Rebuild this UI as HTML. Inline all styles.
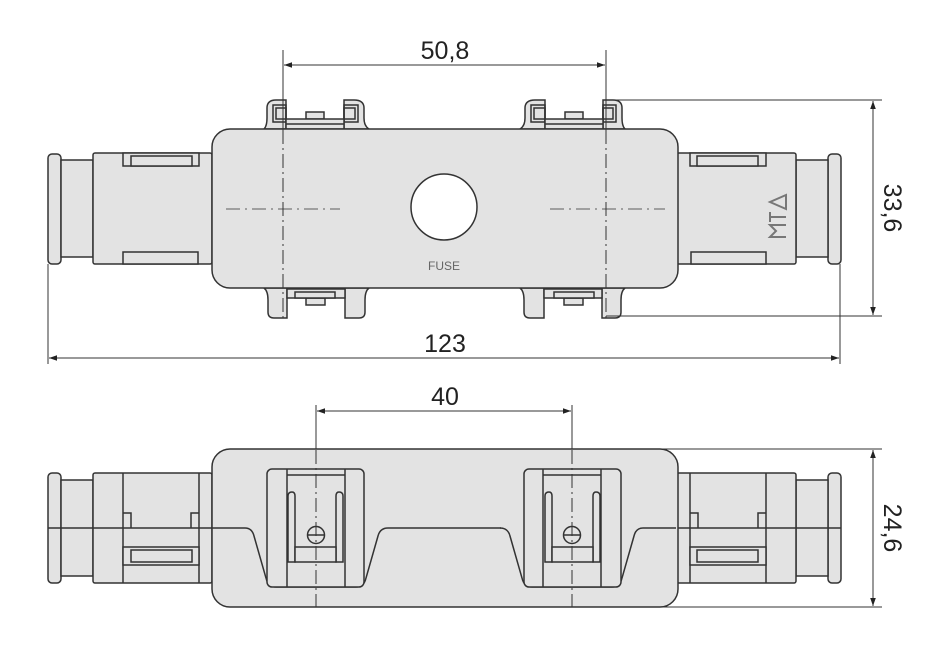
<!DOCTYPE html>
<html><head><meta charset="utf-8"><style>
html,body{margin:0;padding:0;background:#fff;}
svg{display:block;}
text{font-family:"Liberation Sans",sans-serif;fill:#222;}
</style></head><body>
<svg width="941" height="645" viewBox="0 0 941 645" xmlns="http://www.w3.org/2000/svg">
<defs>
<marker id="ar" viewBox="0 0 10 10" refX="10" refY="5" markerWidth="10" markerHeight="8" orient="auto-start-reverse" markerUnits="userSpaceOnUse">
<path d="M0,1.5 L10,5 L0,8.5 z" fill="#222"/></marker>
<g id="topHalf" fill="#e3e3e3" stroke="#333" stroke-width="1.5">
  <rect x="48" y="154" width="13" height="110" rx="4"/>
  <rect x="61" y="160" width="32" height="97"/>
  <rect x="93" y="153" width="119" height="111" rx="2"/>
  <rect x="123" y="153" width="76" height="13"/>
  <rect x="131" y="156" width="61" height="10"/>
  <rect x="123" y="252" width="75" height="12"/>
  <path d="M264,129 Q267,126 267,118 L267,108 Q267,100 276,100 L286,100 L286,129 Z"/>
  <path d="M369,129 Q364,126 364,118 L364,108 Q364,100 354,100 L344,100 L344,129 Z"/>
  <rect x="273" y="105" width="13" height="17" fill="none"/>
  <rect x="276" y="108" width="10" height="11" fill="none"/>
  <rect x="344" y="105" width="14" height="17" fill="none"/>
  <rect x="344" y="108" width="11" height="11" fill="none"/>
  <rect x="306" y="112" width="18" height="7"/>
  <rect x="286" y="119" width="58" height="10"/>
  <line x1="286" y1="124" x2="344" y2="124"/>
  <path d="M264,288 Q268,291 268,300 L268,312 Q268,318 274,318 L287,318 L287,288 Z"/>
  <path d="M369,288 Q365,291 365,300 L365,312 Q365,318 359,318 L345,318 L345,288 Z"/>
  <rect x="306" y="298" width="19" height="7"/>
  <rect x="287" y="289" width="58" height="9"/>
  <rect x="295" y="292" width="40" height="6"/>
</g>
<g id="botHalf" fill="#e3e3e3" stroke="#333" stroke-width="1.5">
  <rect x="48" y="473" width="13" height="110" rx="4"/>
  <rect x="61" y="480" width="32" height="96"/>
  <rect x="93" y="473" width="119" height="110" rx="2"/>
  <line x1="123" y1="473" x2="123" y2="583"/>
  <line x1="199" y1="473" x2="199" y2="583"/>
  <line x1="48" y1="528" x2="212" y2="528"/>
  <path d="M123,513 L131,513 L131,528 M199,513 L191,513 L191,528" fill="none"/>
  <rect x="123" y="547" width="76" height="18"/>
  <rect x="131" y="550" width="61" height="12"/>
</g>
<g id="botClip" fill="#e3e3e3" stroke="#333" stroke-width="1.5">
  <path d="M212,528 L245,528 Q252,528 254,536 L266,578 Q268,587 276,587 L356,587 Q364,587 366,578 L378,536 Q380,528 388,528" fill="none"/>
  <rect x="267" y="469" width="97" height="118" rx="5"/>
  <line x1="287" y1="469" x2="287" y2="587"/>
  <line x1="345" y1="469" x2="345" y2="587"/>
  <line x1="287" y1="475" x2="345" y2="475"/>
  <path d="M288,562 L288,496 Q288,492 292,492 Q295,492 295,496 L295,562 Z"/>
  <path d="M343,562 L343,496 Q343,492 339,492 Q336,492 336,496 L336,562 Z"/>
  <path d="M295,547 L336,547 L336,562 L295,562 Z"/>
  <circle cx="316" cy="535" r="8.5"/>
  <line x1="308" y1="535" x2="324" y2="535"/>
</g>
</defs>

<use href="#topHalf"/>
<use href="#topHalf" transform="translate(889,0) scale(-1,1)"/>
<rect x="212" y="129" width="466" height="159" rx="18" fill="#e3e3e3" stroke="#333" stroke-width="1.5"/>
<circle cx="444" cy="207" r="33" fill="#fff" stroke="#333" stroke-width="1.5"/>
<text x="444" y="270" font-size="12" text-anchor="middle" style="fill:#666">FUSE</text>
<g transform="translate(778,210) rotate(-90)" fill="none" stroke="#777" stroke-width="2">
  <path d="M-27,8 L-27,-8 L-21,-2 L-15,-8 L-15,8"/>
  <path d="M-12,-8 L-2,-8 M-7,-8 L-7,8"/>
  <path d="M1,8 L8,-8 L15,8 Z"/>
</g>
<g stroke="#777" stroke-width="1.2" stroke-dasharray="14,5,2,5" fill="none">
  <line x1="226" y1="209" x2="340" y2="209"/>
  <line x1="550" y1="209" x2="665" y2="209"/>
</g>
<g stroke="#333" stroke-width="1" stroke-dasharray="14,4,2,4" fill="none">
  <line x1="283" y1="130" x2="283" y2="318"/>
  <line x1="606" y1="130" x2="606" y2="318"/>
</g>
<g stroke="#333" stroke-width="1" fill="none">
  <line x1="283" y1="50" x2="283" y2="130"/>
  <line x1="606" y1="50" x2="606" y2="130"/>
  <line x1="284" y1="65" x2="605" y2="65" marker-start="url(#ar)" marker-end="url(#ar)"/>
  <line x1="48" y1="264" x2="48" y2="364"/>
  <line x1="840" y1="264" x2="840" y2="364"/>
  <line x1="49" y1="358" x2="839" y2="358" marker-start="url(#ar)" marker-end="url(#ar)"/>
  <line x1="606" y1="100" x2="882" y2="100"/>
  <line x1="606" y1="316" x2="882" y2="316"/>
  <line x1="873" y1="101" x2="873" y2="315" marker-start="url(#ar)" marker-end="url(#ar)"/>
  <line x1="316" y1="405" x2="316" y2="450"/>
  <line x1="572" y1="405" x2="572" y2="450"/>
  <line x1="317" y1="411" x2="571" y2="411" marker-start="url(#ar)" marker-end="url(#ar)"/>
  <line x1="660" y1="449" x2="882" y2="449"/>
  <line x1="660" y1="607" x2="882" y2="607"/>
  <line x1="873" y1="450" x2="873" y2="606" marker-start="url(#ar)" marker-end="url(#ar)"/>
</g>
<text x="445" y="59" font-size="25" text-anchor="middle">50,8</text>
<text x="445" y="352" font-size="25" text-anchor="middle">123</text>
<text x="445" y="405" font-size="25" text-anchor="middle">40</text>
<text transform="translate(884,208) rotate(90)" font-size="25" text-anchor="middle">33,6</text>
<text transform="translate(884,528) rotate(90)" font-size="25" text-anchor="middle">24,6</text>

<use href="#botHalf"/>
<use href="#botHalf" transform="translate(889,0) scale(-1,1)"/>
<rect x="212" y="449" width="466" height="158" rx="18" fill="#e3e3e3" stroke="#333" stroke-width="1.5"/>
<line x1="388" y1="528" x2="501" y2="528" stroke="#333" stroke-width="1.5"/>
<use href="#botClip"/>
<use href="#botClip" transform="translate(888,0) scale(-1,1)"/>
<g stroke="#333" stroke-width="1" stroke-dasharray="14,4,2,4" fill="none">
  <line x1="316" y1="450" x2="316" y2="607"/>
  <line x1="572" y1="450" x2="572" y2="607"/>
</g>
</svg>
</body></html>
